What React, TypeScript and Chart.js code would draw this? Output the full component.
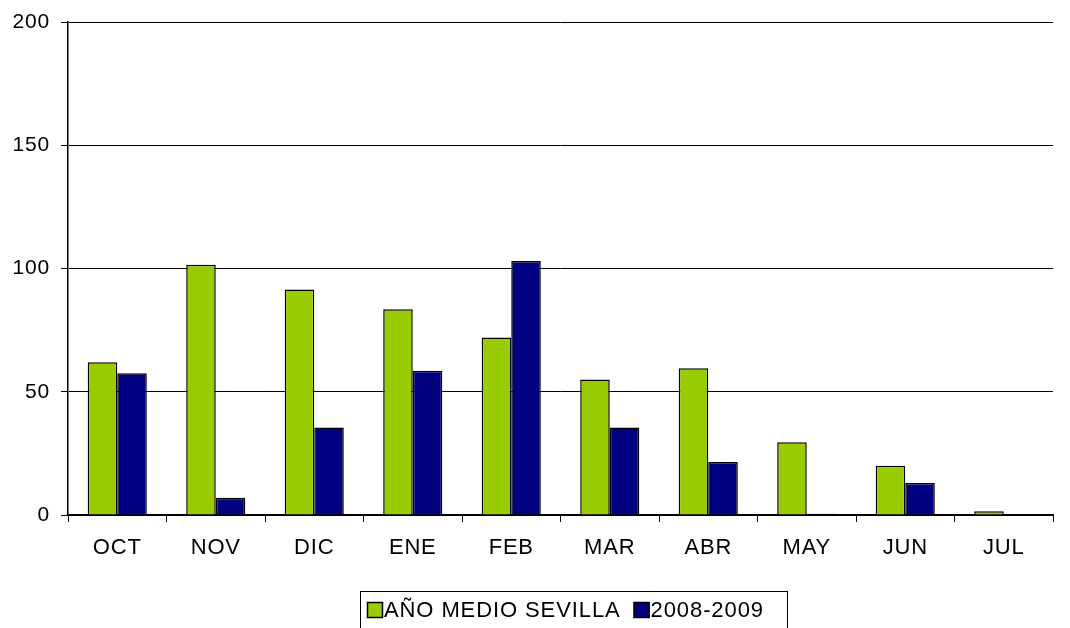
import React, { useEffect, useRef } from "react";
import { Chart, registerables } from "chart.js";

Chart.register(...registerables);

const categories = ["OCT", "NOV", "DIC", "ENE", "FEB", "MAR", "ABR", "MAY", "JUN", "JUL"];
const seriesNames = ["AÑO MEDIO SEVILLA", "2008-2009"];
const averageYear = [62, 101.5, 91.5, 83.5, 72, 55, 59.5, 29.5, 20, 1.5];
const season0809 = [57.5, 7, 35.5, 58.5, 103, 35.5, 21.5, 0.5, 13, null];
const yTicks = [0, 50, 100, 150, 200];
const seriesColors = ["#99CC00", "#000080"];

const FONT = "'Liberation Sans', Arial, sans-serif";

const spacingPlugin = {
  id: "spacing",
  beforeDraw(chart: any) {
    (chart.ctx as any).letterSpacing = "0.8px";
  },
};

const legendBoxPlugin = {
  id: "legendBox",
  afterDraw(chart: any) {
    const ctx = chart.ctx;
    ctx.save();
    (ctx as any).letterSpacing = "0.9px";
    ctx.font = `22px ${FONT}`;
    ctx.textBaseline = "middle";
    ctx.textAlign = "left";
    const left = 360;
    const top = 591;
    const midY = 610;
    let x = left + 7;
    chart.data.datasets.forEach((ds: any, i: number) => {
      ctx.fillStyle = ds.backgroundColor;
      ctx.fillRect(x, midY - 8, 16, 16);
      ctx.strokeStyle = "#000";
      ctx.lineWidth = 1.5;
      ctx.strokeRect(x + 0.5, midY - 8 + 0.5, 15, 15);
      x += 17;
      ctx.fillStyle = "#000";
      ctx.fillText(ds.label, x, midY + 1);
      x += ctx.measureText(ds.label).width;
      if (i < chart.data.datasets.length - 1) x += 13;
    });
    const right = Math.max(x + 20, 787);
    ctx.strokeStyle = "#000";
    ctx.lineWidth = 1;
    ctx.strokeRect(left + 0.5, top + 0.5, right - left, 60);
    ctx.restore();
  },
};

export default function App() {
  const ref = useRef<HTMLCanvasElement>(null);
  useEffect(() => {
    const chart = new Chart(ref.current!, {
      type: "bar",
      data: {
        labels: categories,
        datasets: [
          {
            label: seriesNames[0],
            data: averageYear,
            backgroundColor: seriesColors[0],
            borderColor: "#000",
            borderWidth: 1.5,
            categoryPercentage: 0.6,
            barPercentage: 1.0,
          },
          {
            label: seriesNames[1],
            data: season0809 as any,
            backgroundColor: seriesColors[1],
            borderColor: "#000",
            borderWidth: 1.5,
            categoryPercentage: 0.6,
            barPercentage: 1.0,
          },
        ],
      },
      options: {
        responsive: false,
        animation: false,
        devicePixelRatio: 1,
        layout: { padding: { top: 22, right: 17, left: 0, bottom: 68 } },
        plugins: { legend: { display: false }, tooltip: { enabled: false } },
        scales: {
          x: {
            afterFit: (s: any) => {
              s.height = 45;
              s.paddingLeft = 0;
              s.paddingRight = 0;
            },
            grid: {
              display: true,
              drawOnChartArea: false,
              drawTicks: true,
              tickLength: 7,
              color: "#000",
              lineWidth: 1,
            },
            border: { display: true, color: "#000", width: 1.5 },
            ticks: { color: "#000", font: { family: FONT, size: 22 }, padding: 13, maxRotation: 0 },
          },
          y: {
            min: 0,
            max: 200,
            afterFit: (s: any) => {
              s.width = 68;
              s.paddingTop = 0;
              s.paddingBottom = 0;
            },
            afterBuildTicks: (s: any) => {
              s.ticks = yTicks.map((v) => ({ value: v }));
            },
            grid: { color: "#000", lineWidth: 1, tickLength: 7, drawTicks: true },
            border: { display: true, color: "#000", width: 1.5 },
            ticks: { color: "#000", font: { family: FONT, size: 21 }, padding: 11 },
          },
        },
      },
      plugins: [spacingPlugin, legendBoxPlugin],
    });
    return () => chart.destroy();
  }, []);
  return (
    <div style={{ position: "fixed", left: 0, top: 0, width: 1070, height: 628, background: "#fff" }}>
      <canvas ref={ref} width={1070} height={628} />
    </div>
  );
}
